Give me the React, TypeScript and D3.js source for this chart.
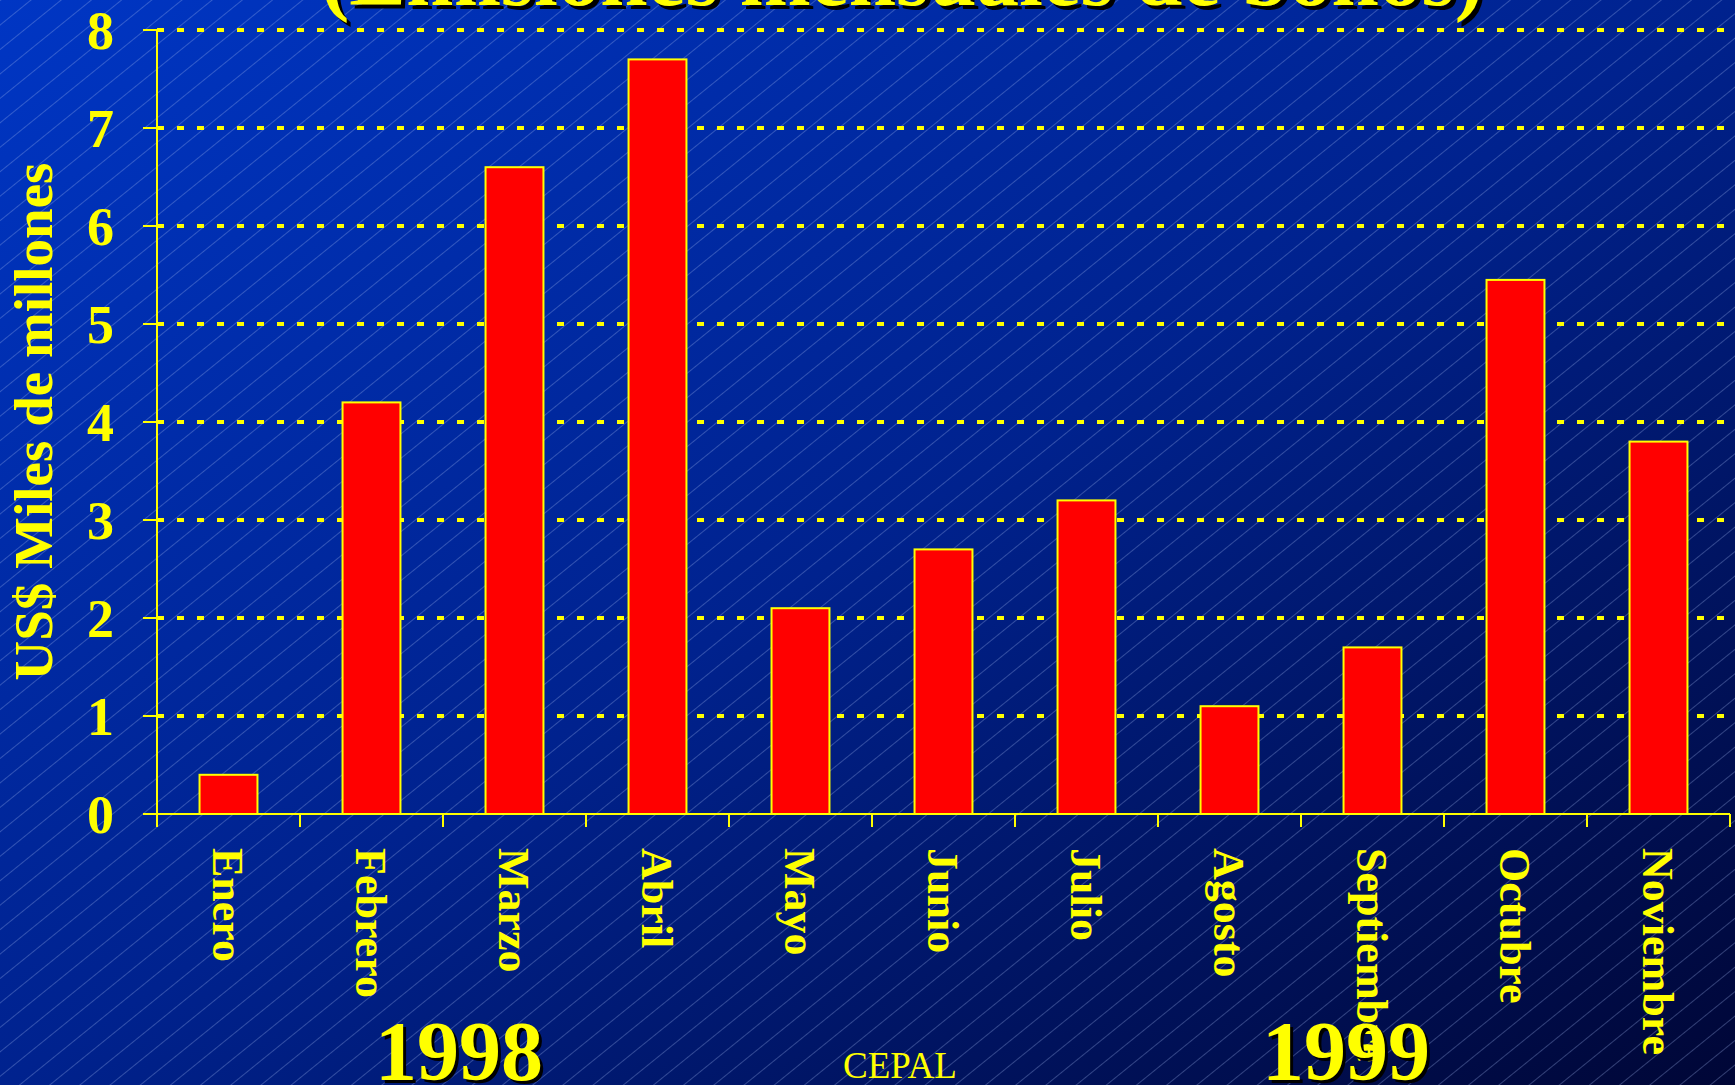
import React, { useEffect } from "react";
import * as d3 from "d3";

const months = ["Enero", "Febrero", "Marzo", "Abril", "Mayo", "Junio", "Julio", "Agosto", "Septiembre", "Octubre", "Noviembre"];
const values = [0.4, 4.2, 6.6, 7.7, 2.1, 2.7, 3.2, 1.1, 1.7, 5.45, 3.8];
const yTicks = [0, 1, 2, 3, 4, 5, 6, 7, 8];
const titleText = "(Emisiones mensuales de bonos)";
const yAxisTitle = "US$ Miles de millones";
const yearLabels = ["1998", "1999"];
const sourceText = "CEPAL";

const W = 1735;
const H = 1085;
const FONT = "'Liberation Serif', 'Times New Roman', serif";
const YELLOW = "#ffff00";

export default function App() {
  useEffect(() => {
    document.body.style.margin = "0";
    document.body.style.overflow = "hidden";
  }, []);

  const x = d3.scaleBand<string>().domain(months).range([157, 1730]).paddingInner(0.595).paddingOuter(0.2975);
  const y = d3.scaleLinear().domain([0, 8]).range([814, 30]);
  const step = x.step();
  const x0 = 157;
  const x1 = 1730;
  const boundaries = d3.range(months.length + 1).map((i) => x0 + i * step);
  const yearX = [459, 1346];

  return (
    <svg width={W} height={H} style={{ display: "block" }} fontFamily={FONT}>
      <defs>
        <linearGradient id="bg" x1="0" y1="0" x2="1" y2="1">
          <stop offset="0" stopColor="#0036c4" />
          <stop offset="0.5" stopColor="#00228e" />
          <stop offset="1" stopColor="#000636" />
        </linearGradient>
        <pattern id="hatch" patternUnits="userSpaceOnUse" width="40" height="19" patternTransform="rotate(-39)">
          <line x1="0" y1="0.5" x2="40" y2="0.5" stroke="rgba(160,180,235,0.32)" strokeWidth="1" />
        </pattern>
      </defs>
      <rect x={0} y={0} width={W} height={H} fill="url(#bg)" />
      <rect x={0} y={0} width={W} height={H} fill="url(#hatch)" />

      {/* title */}
      <g textAnchor="middle" fontWeight="bold" fontSize={85}>
        <text x={906} y={9} fill="#000" textLength={1162} lengthAdjust="spacingAndGlyphs">{titleText}</text>
        <text x={902} y={5} fill={YELLOW} textLength={1162} lengthAdjust="spacingAndGlyphs">{titleText}</text>
      </g>

      {/* gridlines */}
      {yTicks.filter((t) => t > 0).map((t) => (
        <line key={"g" + t} x1={x0} x2={W} y1={y(t)} y2={y(t)} stroke={YELLOW} strokeWidth={4} strokeDasharray="7 13" />
      ))}

      {/* y axis */}
      <line x1={x0} x2={x0} y1={y(8)} y2={y(0) + 13} stroke={YELLOW} strokeWidth={2} />
      {yTicks.map((t) => (
        <g key={"yt" + t}>
          <line x1={x0 - 14} x2={x0} y1={y(t)} y2={y(t)} stroke={YELLOW} strokeWidth={2} />
          <text x={114} y={y(t)} dy="0.35em" textAnchor="end" fill={YELLOW} fontWeight="bold" fontSize={54}>{t}</text>
        </g>
      ))}
      <text transform={`translate(52,${(168 + 675) / 2}) rotate(-90)`} textAnchor="middle" fill={YELLOW} fontWeight="bold" fontSize={55}>{yAxisTitle}</text>

      {/* bars */}
      {months.map((m, i) => (
        <rect key={m} x={x(m)} y={y(values[i])} width={x.bandwidth()} height={y(0) - y(values[i])} fill="#ff0000" stroke={YELLOW} strokeWidth={2} />
      ))}

      {/* x axis */}
      <line x1={x0} x2={x1} y1={y(0)} y2={y(0)} stroke={YELLOW} strokeWidth={2} />
      {boundaries.map((b, i) => (
        <line key={"xt" + i} x1={b} x2={b} y1={y(0)} y2={y(0) + 13} stroke={YELLOW} strokeWidth={2} />
      ))}
      {months.map((m) => (
        <text key={"l" + m} transform={`translate(${(x(m) as number) + x.bandwidth() / 2},848) rotate(90)`} dy="0.35em" fill={YELLOW} fontWeight="bold" fontSize={44}>{m}</text>
      ))}

      {/* years */}
      {yearLabels.map((yl, i) => (
        <g key={yl} textAnchor="middle" fontWeight="bold" fontSize={84}>
          <text x={yearX[i] + 3} y={1083} fill="#000">{yl}</text>
          <text x={yearX[i]} y={1080} fill={YELLOW}>{yl}</text>
        </g>
      ))}
      <text x={900} y={1078} textAnchor="middle" fill={YELLOW} fontSize={37}>{sourceText}</text>
    </svg>
  );
}
